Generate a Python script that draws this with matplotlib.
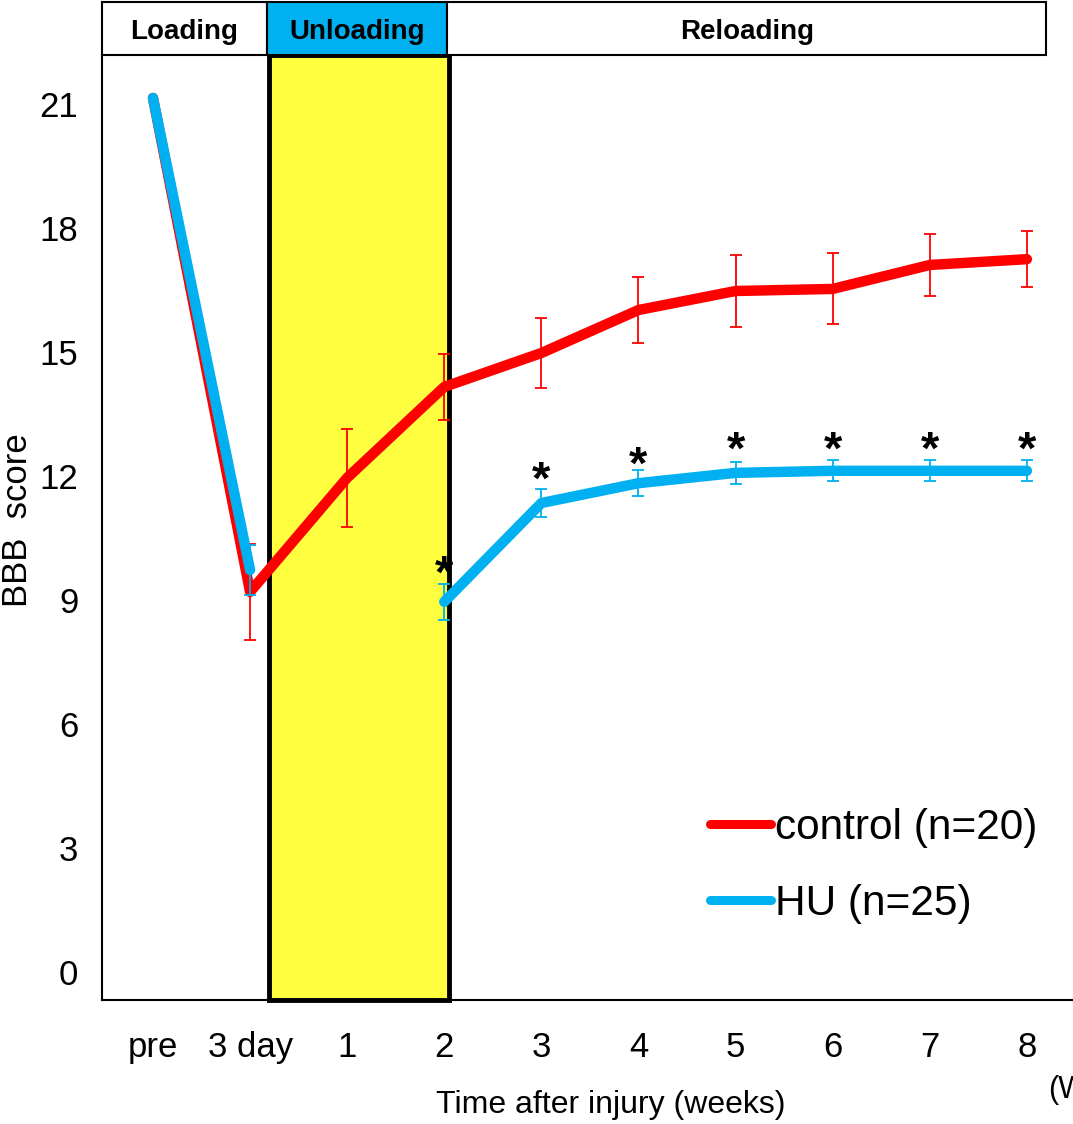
import numpy as np
import matplotlib.pyplot as plt
from matplotlib.patches import Rectangle
from matplotlib.transforms import ScaledTranslation

plt.rcParams['font.family'] = ['Liberation Sans', 'DejaVu Sans']

# Data
time_labels = ['pre', '3 day', '1', '2', '3', '4', '5', '6', '7', '8']
control = [21, 9.05, 11.81, 14.01, 14.83, 15.87, 16.33, 16.38, 16.96, 17.10]
control_err = [np.nan, 1.16, 1.18, 0.80, 0.85, 0.80, 0.86, 0.86, 0.75, 0.67]
hu = [21, 9.58, np.nan, 8.81, 11.20, 11.68, 11.93, 11.98, 11.98, 11.98]
hu_err = [np.nan, 0.60, np.nan, 0.44, 0.34, 0.31, 0.27, 0.25, 0.25, 0.25]
star_y = [np.nan, np.nan, np.nan, 9.60, 11.88, 12.24, 12.60, 12.60, 12.60, 12.60]
periods = ['Loading', 'Unloading', 'Reloading']
y_ticks = [0, 3, 6, 9, 12, 15, 18, 21]

red = '#FF0000'
blue = '#00B0F0'
yellow = '#FFFF40'

x = np.arange(len(time_labels))

W, H = 1073, 1124
fig = plt.figure(figsize=(W / 100, H / 100), dpi=100)
ax = fig.add_axes([102 / W, 1 - 1000 / H, (W - 102) / W, (1000 - 55) / H])
ax.set_xlim(-0.525, 9.475)
ax.set_ylim(-0.824, 22.04)

# unloading period
ax.add_patch(Rectangle((1.2, -0.824), 1.85, 22.04 + 0.824, facecolor=yellow,
                       edgecolor='black', lw=3.5, clip_on=False, zorder=1))

# lines
ax.plot(x, control, color=red, lw=7.5, solid_capstyle='round',
        solid_joinstyle='round', zorder=3, label='control (n=20)')
ax.errorbar(x, control, yerr=control_err, fmt='none', ecolor=red, elinewidth=1.3,
            capsize=4.5, capthick=1.3, zorder=4)
ax.plot(x, hu, color=blue, lw=7.5, solid_capstyle='round',
        solid_joinstyle='round', zorder=5, label='HU (n=25)')
ax.errorbar(x, hu, yerr=hu_err, fmt='none', ecolor=blue, elinewidth=1.3,
            capsize=4.5, capthick=1.3, zorder=6)

for xi, yi in zip(x, star_y):
    if not np.isnan(yi):
        t = ax.text(xi, yi, '*', ha='center', va='center', fontsize=34,
                    fontweight='bold', zorder=7)
        t.set_transform(t.get_transform() + ScaledTranslation(0, -0.07, fig.dpi_scale_trans))

# axes styling
ax.set_xticks(x)
ax.set_xticklabels(time_labels, fontsize=25)
ax.set_yticks(y_ticks)
ax.set_yticklabels([str(v) for v in y_ticks], fontsize=25)
ax.tick_params(axis='both', length=0)
ax.tick_params(axis='y', pad=17)
ax.tick_params(axis='x', pad=22)
for lab in ax.get_yticklabels():
    lab.set_transform(lab.get_transform() + ScaledTranslation(0, -0.06, fig.dpi_scale_trans))
ax.spines['top'].set_visible(False)
ax.spines['right'].set_visible(False)
ax.spines['left'].set_linewidth(1.5)
ax.spines['bottom'].set_linewidth(1.5)

leg = ax.legend(loc='upper left', bbox_to_anchor=(710 / W, 1 - 808 / H),
                bbox_transform=fig.transFigure, frameon=False, fontsize=30.5,
                handlelength=1.45, handletextpad=0.08, labelspacing=0.85,
                borderpad=0, borderaxespad=0)
for line in leg.get_lines():
    line.set_linewidth(6.5)
    line.set_solid_capstyle('round')

# header with the periods
hax = fig.add_axes([102 / W, 1 - 55 / H, (W - 102) / W, 53 / H])
hax.set_xlim(ax.get_xlim())
hax.set_ylim(0, 1)
hax.axis('off')
edges = [-0.525, 1.17, 3.03, 9.2]
fills = ['white', blue, 'white']
for i, name in enumerate(periods):
    hax.add_patch(Rectangle((edges[i], 0), edges[i + 1] - edges[i], 1,
                            facecolor=fills[i], edgecolor='black', lw=1.5, clip_on=False))
    hax.text((edges[i] + edges[i + 1]) / 2, 0.44, name, ha='center', va='center',
             fontsize=20, fontweight='bold')

fig.text(611 / W, 1 - 1105 / H, 'Time after injury (weeks)', ha='center', va='center',
         fontsize=23)
fig.text(1048 / W, 1 - 1090 / H, '(Weeks)', ha='left', va='center', fontsize=22)
fig.text(18 / W, 1 - 520 / H, 'BBB  score', ha='center', va='center', rotation=90,
         fontsize=25)

plt.savefig('out.png', dpi=100)
